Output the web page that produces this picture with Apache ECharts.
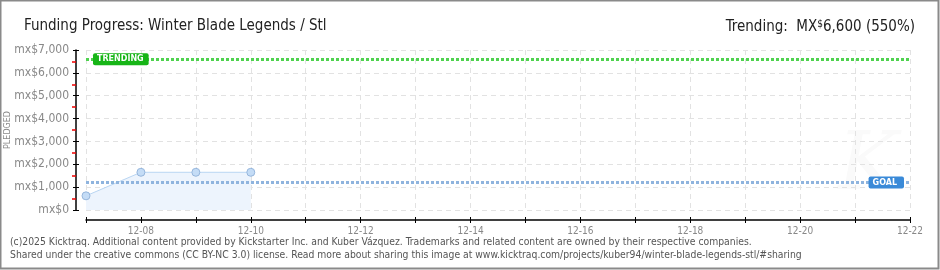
<!DOCTYPE html>
<html><head><meta charset="utf-8">
<script src="https://cdn.jsdelivr.net/npm/echarts@6/dist/echarts.min.js"></script>
<style>html,body{margin:0;padding:0;background:#fff}#c{width:940px;height:270px}</style>
</head><body><div id="c"></div>
<script>
const dayLabels = ['12-07','12-08','12-09','12-10','12-11','12-12','12-13','12-14','12-15','12-16','12-17','12-18','12-19','12-20','12-21','12-22'];
const pledgedDays = [0, 1, 2, 3];
const pledgedValues = [620, 1650, 1650, 1650];
const goalValue = 1200;
const trendingValue = 6600;
const yTicks = [0, 1000, 2000, 3000, 4000, 5000, 6000, 7000];

const chart = echarts.init(document.getElementById('c'), null, {renderer:'canvas'});
const axisCommon = {type:'value', min:0, max:dayLabels.length-1, interval:1};
chart.setOption({
  animation:false,
  grid:{left:86, right:30, top:50, bottom:60},
  title:[{text:'Funding Progress: Winter Blade Legends / Stl', left:19, top:14,
    textStyle:{fontFamily:'DejaVu Sans Condensed', fontSize:15, fontWeight:'normal', color:'#222'}},
    {text:'{a|Trending:  MX}{s|$}{a|6,600 (550%)}', right:20, top:14,
    textStyle:{fontWeight:'normal', rich:{a:{fontFamily:'DejaVu Sans Condensed', fontSize:15, fontWeight:'normal', color:'#222'},
      s:{fontFamily:'DejaVu Sans Condensed', fontSize:10, fontWeight:'normal', color:'#222', verticalAlign:'top', padding:[0,0,6,0]}}}}],
  graphic:[
    {type:'rect', shape:{x:0.5,y:0.5,width:938,height:268}, style:{fill:'none', stroke:'#8a8a8a', lineWidth:2}, silent:true},
    {type:'text', left:10, top:237, style:{text:'(c)2025 Kicktraq. Additional content provided by Kickstarter Inc. and Kuber Vázquez. Trademarks and related content are owned by their respective companies.', font:'10.3px "DejaVu Sans Condensed"', fill:'#555'}},
    {type:'text', left:10, top:250, style:{text:'Shared under the creative commons (CC BY-NC 3.0) license. Read more about sharing this image at www.kicktraq.com/projects/kuber94/winter-blade-legends-stl/#sharing', font:'10.3px "DejaVu Sans Condensed"', fill:'#555'}},
    {type:'text', x:8, y:130, rotation:Math.PI/2, style:{text:'PLEDGED', font:'8px "DejaVu Sans"', fill:'#888', align:'center', verticalAlign:'middle'}},
    {type:'text', left:838, top:128, z:-1, style:{text:'K', font:'italic 80px "DejaVu Serif"', fill:'#fafafa'}}
  ],
  xAxis:[
    Object.assign({}, axisCommon, {position:'bottom', offset:10,
      axisLine:{show:true, onZero:false, lineStyle:{color:'#000', width:1.5}},
      axisTick:{show:true, length:3, lineStyle:{color:'#000'}},
      axisLabel:{color:'#888', fontFamily:'DejaVu Sans Condensed', fontSize:10, margin:6,
        formatter:(v)=> (v % 2 === 1 ? dayLabels[v] : '')},
      splitLine:{show:true, lineStyle:{color:'#e2e2e2', type:[5,4]}}}),
    Object.assign({}, axisCommon, {position:'bottom', offset:10,
      axisLine:{show:false, onZero:false}, axisTick:{show:true, inside:true, length:3, lineStyle:{color:'#000'}},
      axisLabel:{show:false}, splitLine:{show:false}})
  ],
  yAxis:[
    {type:'value', min:0, max:7000, interval:1000, offset:10,
      axisLine:{show:true, onZero:false, lineStyle:{color:'#000', width:1.5}},
      axisTick:{show:true, length:3, lineStyle:{color:'#000'}},
      minorTick:{show:true, splitNumber:2, length:4, lineStyle:{color:'#e00', width:1.5}},
      axisLabel:{color:'#888', fontFamily:'DejaVu Sans Condensed', fontSize:12, margin:7,
        formatter:(v)=> yTicks.includes(v) ? 'mx$' + v.toLocaleString('en-US') : ''},
      splitLine:{show:true, lineStyle:{color:'#e2e2e2', type:[5,4]}}},
    {type:'value', min:0, max:7000, interval:1000, offset:10, position:'left',
      axisLine:{show:false, onZero:false}, axisTick:{show:true, inside:true, length:3, lineStyle:{color:'#000'}},
      axisLabel:{show:false}, splitLine:{show:false}}
  ],
  series:[{
    type:'line', xAxisIndex:0, yAxisIndex:0,
    data: pledgedDays.map((d,i)=>[d, pledgedValues[i]]),
    symbol:'circle', symbolSize:8,
    itemStyle:{color:'#c4dcf6', borderColor:'#96b6dc', borderWidth:1},
    lineStyle:{color:'#b9d5f2', width:1},
    areaStyle:{color:'#edf4fd', opacity:1},
    markLine:{symbol:'none', silent:true, animation:false,
      data:[
        {yAxis:trendingValue, lineStyle:{color:'#4fd24f', width:3, type:[3,2]},
          label:{position:'insideStart', distance:7, formatter:'TRENDING', color:'#fff', backgroundColor:'#17b517',
            fontFamily:'DejaVu Sans', fontSize:8, fontWeight:'bold', padding:[2,5,2,4], borderRadius:2, verticalAlign:'middle'}},
        {yAxis:goalValue, lineStyle:{color:'#8fb4de', width:3, type:[3,2]},
          label:{position:'insideEnd', distance:6, formatter:'GOAL', color:'#fff', backgroundColor:'#3a8ad8',
            fontFamily:'DejaVu Sans', fontSize:8, fontWeight:'bold', padding:[2,7,2,4], borderRadius:2, verticalAlign:'middle'}}
      ]}
  }]
});
</script></body></html>
